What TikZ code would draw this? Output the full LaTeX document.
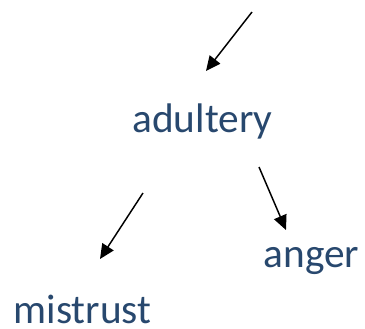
\documentclass[tikz,border=0pt]{standalone}
\usepackage{fontspec}
\setmainfont{Carlito}
\usetikzlibrary{arrows.meta}
\definecolor{wordblue}{RGB}{40,72,110}

\begin{document}
\begin{tikzpicture}[x=0.75pt,y=-0.75pt]
\tikzstyle{every node}+=[inner sep=0pt]
\tikzset{word/.style={anchor=base,text=wordblue,font=\fontsize{31}{37}\selectfont},
  link/.style={black,line width=1.1pt,-{Triangle[length=11pt,width=10pt]}}}
\useasboundingbox (0,0) rectangle (365,329);
\node [word] (adultery) at (202.5,132) {adultery};
\node [word] (anger) at (311.5,267) {anger};
\node [word] (mistrust) at (82.5,323) {mistrust};
\coordinate (top) at (252,12);
\coordinate (toadultery) at (206,71);
\coordinate (fromleft) at (143,193);
\coordinate (tomistrust) at (100,259);
\coordinate (fromright) at (259,167);
\coordinate (toanger) at (286,230);
\draw [link] (top) -- (toadultery);
\draw [link] (fromleft) -- (tomistrust);
\draw [link] (fromright) -- (toanger);
\end{tikzpicture}
\end{document}
